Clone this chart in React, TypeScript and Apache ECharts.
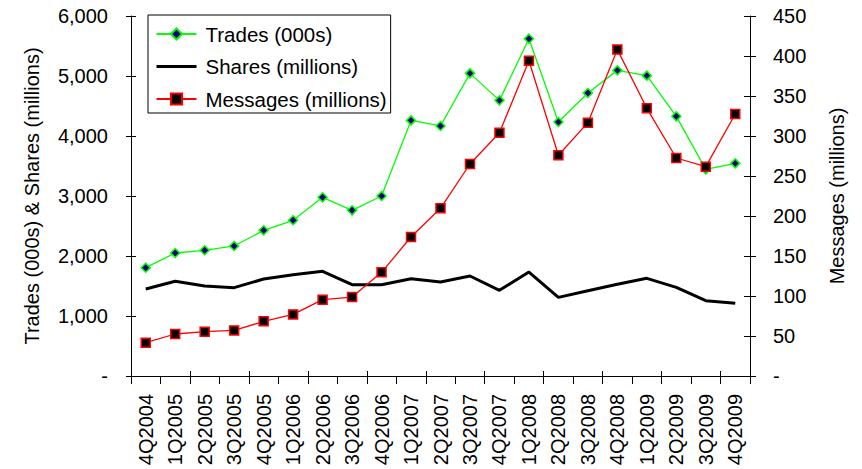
import React, { useEffect, useRef } from "react";
import * as echarts from "echarts";

const categories = [
  "4Q2004", "1Q2005", "2Q2005", "3Q2005", "4Q2005", "1Q2006", "2Q2006",
  "3Q2006", "4Q2006", "1Q2007", "2Q2007", "3Q2007", "4Q2007", "1Q2008",
  "2Q2008", "3Q2008", "4Q2008", "1Q2009", "2Q2009", "3Q2009", "4Q2009",
];

const trades = [
  1805, 2050, 2095, 2167, 2428, 2595, 2978, 2761, 3000, 4260, 4167,
  5044, 4594, 5622, 4233, 4717, 5094, 5006, 4328, 3444, 3544,
];

const shares = [
  1450, 1578, 1500, 1472, 1617, 1689, 1744, 1522, 1522, 1622, 1567,
  1667, 1428, 1733, 1311, 1422, 1528, 1628, 1478, 1255, 1212,
];

const messages = [
  41.6, 52.5, 55.4, 57, 68.3, 77, 95.4, 98.7, 129.6, 173.7, 209.6,
  265, 304, 394, 276, 316.7, 408, 334.6, 272.5, 261.7, 327.5,
];

const leftTicks = { min: 0, max: 6000, interval: 1000 };
const rightTicks = { min: 0, max: 450, interval: 50 };

const FONT = "Liberation Sans, Arial, sans-serif";
const FS = 20;

const fmt = (v: number) => (v === 0 ? "-" : v.toLocaleString("en-US"));

export default function App() {
  const ref = useRef<HTMLDivElement>(null);

  useEffect(() => {
    if (!ref.current) return;
    const chart = echarts.init(ref.current, null, { renderer: "svg" });
    const axisCommon = {
      axisLine: { show: true, lineStyle: { color: "#000", width: 1 } },
      splitLine: { show: false },
    };
    chart.setOption({
      animation: false,
      backgroundColor: "#fff",
      textStyle: { fontFamily: FONT, color: "#000" },
      grid: { left: 131, right: 112, top: 16, bottom: 93, containLabel: false },
      legend: {
        orient: "vertical",
        left: 148,
        top: 15,
        backgroundColor: "#fff",
        borderColor: "#000",
        borderWidth: 1,
        padding: [7, 4, 2, 7],
        itemWidth: 40,
        itemHeight: 14,
        itemGap: 8.5,
        textStyle: {
          fontSize: 20.5,
          color: "#000",
          fontFamily: FONT,
          lineHeight: 24,
          padding: [0, 0, 0, 4],
        },
        data: [
          { name: "Trades (000s)" },
          {
            name: "Shares (millions)",
            itemStyle: { opacity: 0 },
            lineStyle: { width: 3, color: "#000" },
          },
          { name: "Messages (millions)" },
        ],
      },
      xAxis: [
        {
          type: "category",
          data: categories,
          boundaryGap: true,
          ...axisCommon,
          axisTick: { show: true, length: 8, lineStyle: { color: "#000" } },
          axisLabel: {
            rotate: 90,
            interval: 0,
            margin: 18,
            fontSize: FS,
            color: "#000",
            fontFamily: FONT,
          },
        },
        {
          type: "category",
          data: categories,
          boundaryGap: true,
          position: "bottom",
          axisLine: { show: false },
          axisTick: { show: true, inside: true, length: 5, lineStyle: { color: "#000" } },
          axisLabel: { show: false },
          splitLine: { show: false },
        },
      ],
      yAxis: [
        {
          type: "value",
          position: "left",
          ...leftTicks,
          ...axisCommon,
          name: "Trades (000s) & Shares (millions)",
          nameLocation: "middle",
          nameGap: 89,
          nameRotate: 90,
          nameTextStyle: { fontSize: FS, color: "#000", fontFamily: FONT },
          axisTick: { show: true, length: 5, lineStyle: { color: "#000" } },
          axisLabel: {
            formatter: fmt,
            margin: 23,
            fontSize: FS,
            color: "#000",
            fontFamily: FONT,
          },
        },
        {
          type: "value",
          position: "right",
          ...rightTicks,
          ...axisCommon,
          name: "Messages (millions)",
          nameLocation: "middle",
          nameGap: 77,
          nameRotate: 90,
          nameTextStyle: { fontSize: FS, color: "#000", fontFamily: FONT },
          axisTick: { show: true, length: 6, lineStyle: { color: "#000" } },
          axisLabel: {
            formatter: fmt,
            margin: 23,
            fontSize: FS,
            color: "#000",
            fontFamily: FONT,
          },
        },
        {
          type: "value",
          position: "left",
          ...leftTicks,
          axisLine: { show: false },
          axisTick: { show: true, inside: true, length: 5, lineStyle: { color: "#000" } },
          axisLabel: { show: false },
          splitLine: { show: false },
        },
        {
          type: "value",
          position: "right",
          ...rightTicks,
          axisLine: { show: false },
          axisTick: { show: true, inside: true, length: 6, lineStyle: { color: "#000" } },
          axisLabel: { show: false },
          splitLine: { show: false },
        },
      ],
      series: [
        {
          name: "Trades (000s)",
          type: "line",
          yAxisIndex: 0,
          data: trades,
          symbol: "diamond",
          symbolSize: 9,
          showAllSymbol: true,
          itemStyle: { color: "#000080", borderColor: "#00ff00", borderWidth: 1.5 },
          lineStyle: { color: "#00ff00", width: 1.3 },
          z: 3,
        },
        {
          name: "Shares (millions)",
          type: "line",
          yAxisIndex: 0,
          data: shares,
          symbol: "none",
          itemStyle: { color: "#000" },
          lineStyle: { color: "#000", width: 3 },
          z: 2,
        },
        {
          name: "Messages (millions)",
          type: "line",
          yAxisIndex: 1,
          data: messages,
          symbol: "rect",
          symbolSize: 9,
          showAllSymbol: true,
          itemStyle: { color: "#000", borderColor: "#ff0000", borderWidth: 1.5 },
          lineStyle: { color: "#ff0000", width: 1.3 },
          z: 4,
        },
      ],
    });
    return () => chart.dispose();
  }, []);

  return (
    <div
      ref={ref}
      style={{ position: "absolute", left: 0, top: 0, width: 862, height: 469 }}
    />
  );
}
